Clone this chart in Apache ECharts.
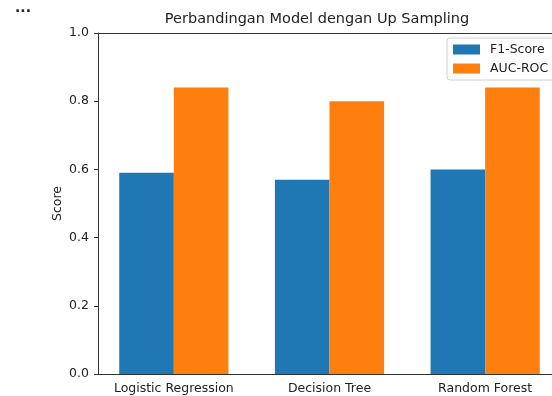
<!DOCTYPE html>
<html><head><meta charset="utf-8">
<script src="https://cdn.jsdelivr.net/npm/echarts@6/dist/echarts.min.js"></script>
<style>html,body{margin:0;padding:0;background:#fff}#c{width:552px;height:396px}</style>
</head><body><div id="c"></div>
<script>
const categories = ["Logistic Regression", "Decision Tree", "Random Forest"];
const f1Score = [0.59, 0.57, 0.60];
const aucRoc = [0.84, 0.80, 0.84];
const yTicks = [0.0, 0.2, 0.4, 0.6, 0.8, 1.0];

const chart = echarts.init(document.getElementById('c'), null, {renderer: 'canvas'});
const font = 'DejaVu Sans';
chart.setOption({
  animation: false,
  backgroundColor: '#fff',
  title: [
    {text: 'Perbandingan Model dengan Up Sampling', left: 312, top: 7, textAlign: 'center',
     textStyle: {fontFamily: font, fontSize: 14.5, fontWeight: 'normal', color: '#222'}},
    {text: '...', left: 10, top: -4, textStyle: {fontFamily: font, fontSize: 14, fontWeight: 'bold', color: '#222'}}
  ],
  legend: {
    orient: 'vertical', left: 447, top: 38,
    itemWidth: 27, itemHeight: 10, itemGap: 6,
    padding: [5, 16, 5, 6],
    borderColor: '#d0d0d0', borderWidth: 1, borderRadius: 3,
    backgroundColor: 'rgba(255,255,255,0.8)',
    itemStyle: {borderWidth: 0},
    icon: 'rect',
    textStyle: {fontFamily: font, fontSize: 12.5, color: '#222', padding: [0, 0, 0, 5]},
    data: ['F1-Score', 'AUC-ROC']
  },
  grid: {left: 96, top: 33, width: 467, height: 341, outerBoundsMode: 'none', containLabel: false},
  xAxis: [{
    type: 'category', data: categories,
    axisLine: {lineStyle: {color: '#333'}},
    axisTick: {alignWithLabel: true, interval: 0, length: 4, lineStyle: {color: '#333'}},
    axisLabel: {interval: 0, hideOverlap: false, fontFamily: font, fontSize: 12.5, color: '#222', margin: 8}
  }, {
    type: 'category', data: categories, position: 'top',
    axisLine: {show: true, lineStyle: {color: '#333'}},
    axisTick: {show: false}, axisLabel: {show: false}
  }],
  yAxis: {
    type: 'value', min: 0, max: 1, interval: 0.2, offset: -2,
    name: 'Score', nameLocation: 'middle', nameGap: 34, nameRotate: 90, nameMoveOverlap: false,
    nameTextStyle: {fontFamily: font, fontSize: 12.5, color: '#222'},
    axisLine: {show: true, lineStyle: {color: '#333'}},
    axisTick: {show: true, length: 4, lineStyle: {color: '#333'}},
    splitLine: {show: false},
    axisLabel: {fontFamily: font, fontSize: 12.5, color: '#222', margin: 9,
      formatter: v => v.toFixed(1)}
  },
  series: [
    {name: 'F1-Score', type: 'bar', data: f1Score, barWidth: 54.6, barGap: '0%',
     itemStyle: {color: '#1f77b4'}},
    {name: 'AUC-ROC', type: 'bar', data: aucRoc, barWidth: 54.6, barGap: '0%',
     itemStyle: {color: '#ff7f0e'}}
  ]
});
</script></body></html>
